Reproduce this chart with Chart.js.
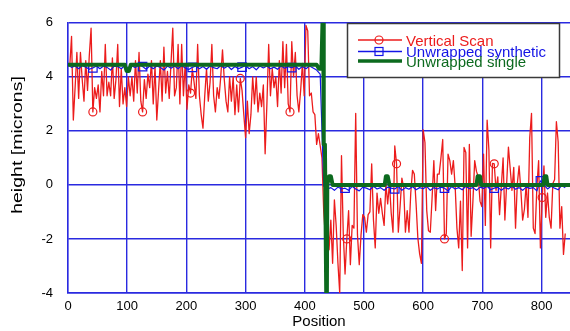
<!DOCTYPE html>
<html>
<head>
<meta charset="utf-8">
<script src="https://cdn.jsdelivr.net/npm/chart.js@4.4.1/dist/chart.umd.min.js"></script>
<style>
  html, body { margin: 0; padding: 0; background: #fff; }
</style>
</head>
<body>
<canvas id="chart" width="570" height="331"></canvas>
<script>
"use strict"

// sample spacing along Position
const redStep = 3;
const blueStep = 6;

// Vertical Scan (x = 0, 3, 6 ... 840)
const redY = [
  4.5, 4.4, 5.5, 2.4, 3.6, 4.9, 3.2, 4.9, 3.9, 3.1, 4.6, 3.5, 4.8, 5.8, 2.7, 3.6, 3.2, 3.7, 2.7, 4.2, 3.3, 5.2, 3.3, 3.8, 3.3, 4.7, 3.2, 3.9, 5.2,
  2.9, 4.3, 3.0, 3.6, 2.9, 4.0, 3.3, 4.0, 3.1, 4.6, 3.4, 4.9, 3.1, 2.7, 3.9, 3.2, 4.1, 3.6, 4.6, 3.0, 4.4, 2.4, 3.5, 4.6, 3.1, 5.1, 3.4, 4.2,
  3.2, 4.5, 5.8, 3.3, 3.6, 5.2, 3.0, 5.2, 3.3, 4.5, 2.8, 3.7, 3.4, 4.3, 3.8, 3.2, 5.2, 3.3, 2.6, 2.1, 3.3, 4.3, 3.1, 3.8, 5.2, 3.3, 2.7, 3.6,
  3.2, 4.0, 5.0, 3.9, 3.1, 2.7, 4.0, 3.1, 4.0, 2.6, 3.7, 2.7, 3.94, 3.5, 2.6, 1.75, 3.1, 1.9, 2.6, 4.0, 3.0, 4.0, 2.7, 3.4, 2.9, 3.7, 1.15, 3.0,
  5.2, 3.3, 4.3, 3.6, 4.0, 2.9, 4.6, 3.4, 5.3, 3.6, 5.2, 3.0, 2.7, 5.3, 4.0, 4.9, 3.3, 2.7, 3.5, 4.5, 3.3, 5.9, 5.7, 3.3, 3.4, 2.7, 2.6, 1.5,
  1.9, 1.45, 1.0, -1.0, -2.0, -1.0, -2.4, -1.3, -2.9, -0.55,
  -1.5, -2.9, -4.0, 1.08, -1.8, -3.3, -2.0, -0.95, -2.95, -1.5,
  -1.6, 2.65, -1.85, -2.95, -1.85, -1.1, -1.2, -1.75, -1.1, -1.0,
  0.78, -1.3, -2.33, -0.3, -1.05, -0.5, -1.05, -1.5, 0.05, -0.7,
  0.05, -1.05, -1.75, 1.44, 0.78, -1.75, -0.8, 0.25, -0.1, -1.75,
  -0.95, -1.75, -0.3, 0.54, 0.4, -0.7, -1.97, -2.55, -2.9, 2.04,
  1.57, -0.95, -1.7, -1.75, -0.5, 0.9, -0.95, 0.4, 0.4, 1.0,
  1.68, -2.0,
  -1.8, 1.14, 0.9, 0.4, 0.9, -0.05, -1.6, -2.33, -0.6, -3.17,
  1.39, 1.2, -2.33, 1.5, -1.9, -0.6, 0.9, 0.5, 0.3, -0.6,
  -0.8, 1.14, -1.5, 2.4, 1.3, -2.33, 0.8, 0.78, -0.2, 0.3,
  -1.1, -0.05, 1.0, -1.3, 0.05, 1.4, 0.6, -0.2, 0.65, -1.6,
  0.05, 0.7, -0.2, -1.3, -0.9, 0.05, -1.2, 1.75, 2.65, -1.6,
  -1.8, -0.1, 0.9, -2.33, -0.47, 0.7, -1.2, -0.3, -1.2, -1.6,
  0.05, 0.2, 2.34, 1.6, -1.6, -0.8, -2.57, -1.8
];
const redMarkers = [42, 126, 207, 291, 375, 471, 555, 636, 720, 801];

// Unwrapped synthetic (x = 0, 6, 12 ... 840)
const blueY = [
  4.45, 4.35, 4.4, 4.3, 4.42, 4.36, 4.28, 4.33, 4.4, 4.3,
  4.4, 4.35, 4.25, 4.4, 4.38, 4.3, 4.42, 4.3, 4.4, 4.34,
  4.45, 4.38, 4.28, 4.4, 4.3, 4.4, 4.35, 4.25, 4.4, 4.32,
  4.4, 4.3, 4.42, 4.33, 4.27, 4.35, 4.4, 4.3, 4.38, 4.28,
  4.4, 4.34, 4.3, 4.42, 4.32, 4.4, 4.27, 4.38, 4.3, 4.36,
  4.42, 4.3, 4.38, 4.26, 4.4, 4.33, 4.4, 4.3, 4.36, 4.28,
  4.4, 4.32, 4.38, 4.34, 4.4, 4.28, 4.38, 4.3, 4.4, 4.33,
  4.25,
  4.1, -0.05, -0.15, -0.1, -0.2, -0.08, -0.15, -0.12, -0.2, -0.05,
  -0.15, -0.22, -0.08, -0.12, -0.18, -0.05, -0.15, -0.1, -0.2, -0.08,
  -0.12, -0.15, -0.05, -0.2, -0.1, -0.16, -0.06, -0.18, -0.1, -0.14,
  -0.05, -0.2, -0.1, -0.15, -0.08, -0.12, -0.22, -0.06, -0.15, -0.1,
  -0.18, -0.05, -0.14, -0.1, -0.2, -0.08, -0.13, -0.05, -0.18, -0.12,
  -0.08, -0.2, -0.1, -0.15, -0.05, -0.16, -0.1, -0.2, -0.08, -0.13,
  -0.1, -0.22, 0.15, 0.0, -0.15, -0.05, -0.12, -0.18, -0.02, -0.1
];
const blueMarkers = [42, 126, 210, 294, 378, 468, 552, 636, 720, 798];

// Unwrapped single
const greenX = [0, 96, 99, 103, 106, 200, 300, 400, 420, 424, 428, 431, 432, 434, 437, 438, 441, 444, 447, 450,
  535, 537, 540, 543, 690, 692, 696, 698, 803, 805, 808, 810, 848];
const greenY = [4.45, 4.45, 4.22, 4.22, 4.45, 4.45, 4.45, 4.45, 4.45, 4.3, 4.3, 7, 1.5, 1.5, -6, 0, 0.32, 0.32, 0, 0,
  0, 0.32, 0.32, 0, 0, 0.32, 0.32, 0, 0, 0.32, 0.32, 0, 0];

const seriesNames = ["Vertical Scan", "Unwrapped synthetic", "Unwrapped single"];
const seriesColors = ["#ec1c1c", "#1414e6", "#0c6a1e"];
const xTicks = [0, 100, 200, 300, 400, 500, 600, 700, 800];
const yTicks = [-4, -2, 0, 2, 4, 6];
const xTitle = "Position";
const yTitle = "height [microns]";

const gridColor = "#2a2ae0";
const fontFam = "'Liberation Sans', Arial, sans-serif";

// legend drawn as a boxed panel with overlapping rows, like the original
const boxLegend = {
  id: "boxLegend",
  afterDraw(chart) {
    const ctx = chart.ctx;
    ctx.save();
    ctx.fillStyle = "#fff";
    ctx.fillRect(347, 23, 212, 54);
    ctx.strokeStyle = "#3a3a3a";
    ctx.lineWidth = 1.5;
    ctx.strokeRect(347.5, 23.5, 212, 54);

    const rowsY = [40, 51.5, 61];
    ctx.font = "15px " + fontFam;
    ctx.textBaseline = "alphabetic";
    ctx.textAlign = "left";
    for (let i = 0; i < 3; i++) {
      const y = rowsY[i];
      ctx.strokeStyle = seriesColors[i];
      ctx.lineWidth = i == 2 ? 3.5 : 1.3;
      ctx.beginPath();
      ctx.moveTo(358, y);
      ctx.lineTo(402, y);
      ctx.stroke();
      if (i == 0) {
        ctx.lineWidth = 1.2;
        ctx.beginPath();
        ctx.arc(379, y, 4, 0, Math.PI * 2);
        ctx.stroke();
      }
      if (i == 1) {
        ctx.lineWidth = 1.2;
        ctx.strokeRect(375, y - 4, 8, 8);
      }
      ctx.fillStyle = seriesColors[i];
      ctx.fillText(seriesNames[i], 406, y + 5.5);
    }

    // y axis title
    ctx.translate(18, 145);
    ctx.rotate(-Math.PI / 2);
    ctx.scale(1.3, 1);
    ctx.fillStyle = "#000";
    ctx.font = "15px " + fontFam;
    ctx.textAlign = "center";
    ctx.textBaseline = "middle";
    ctx.fillText(yTitle, 0, 0);
    ctx.restore();
  }
};

const toPoints = (ys, step) => ys.map((y, i) => ({ x: i * step, y: y }));

new Chart(document.getElementById("chart"), {
  type: "line",
  data: {
    datasets: [
      {
        label: seriesNames[2],
        data: greenX.map((x, i) => ({ x: x, y: greenY[i] })),
        borderColor: seriesColors[2],
        borderWidth: 4,
        pointRadius: 0,
        borderJoinStyle: "round",
        tension: 0,
        order: 0
      },
      {
        label: seriesNames[1],
        data: toPoints(blueY, blueStep),
        borderColor: seriesColors[1],
        borderWidth: 1.2,
        borderJoinStyle: "round",
        pointStyle: "rect",
        pointRadius: c => blueMarkers.includes(c.raw.x) ? 6 : 0,
        pointBorderWidth: 1.2,
        pointBorderColor: seriesColors[1],
        pointBackgroundColor: "rgba(0,0,0,0)",
        tension: 0,
        order: 1
      },
      {
        label: seriesNames[0],
        data: toPoints(redY, redStep),
        borderColor: seriesColors[0],
        borderWidth: 1.3,
        borderJoinStyle: "round",
        pointStyle: "circle",
        pointRadius: c => redMarkers.includes(c.raw.x) ? 4 : 0,
        pointBorderWidth: 1.2,
        pointBorderColor: seriesColors[0],
        pointBackgroundColor: "rgba(0,0,0,0)",
        tension: 0,
        order: 2
      }
    ]
  },
  options: {
    responsive: false,
    animation: false,
    devicePixelRatio: 1,
    layout: { padding: { top: 15, left: 0, right: 0, bottom: 0 } },
    plugins: { legend: { display: false }, tooltip: { enabled: false } },
    scales: {
      x: {
        type: "linear",
        min: 0,
        max: 848,
        afterBuildTicks: s => { s.ticks = xTicks.map(v => ({ value: v })); },
        afterFit: s => { s.height = 38; },
        grid: { color: gridColor, lineWidth: 1.4, drawTicks: false },
        border: { color: gridColor, width: 1.4 },
        ticks: { color: "#000", font: { family: fontFam, size: 13 }, padding: 6, maxRotation: 0 },
        title: { display: true, text: xTitle, color: "#000", font: { family: fontFam, size: 15 }, padding: { top: 0, bottom: 0 } }
      },
      y: {
        min: -4,
        max: 6,
        afterBuildTicks: s => { s.ticks = yTicks.map(v => ({ value: v })); },
        afterFit: s => { s.width = 68; },
        grid: { color: gridColor, lineWidth: 1.4, drawTicks: false },
        border: { color: gridColor, width: 1.4 },
        ticks: { color: "#000", font: { family: fontFam, size: 13 }, padding: 15 }
      }
    }
  },
  plugins: [boxLegend]
});
</script>
</body>
</html>
